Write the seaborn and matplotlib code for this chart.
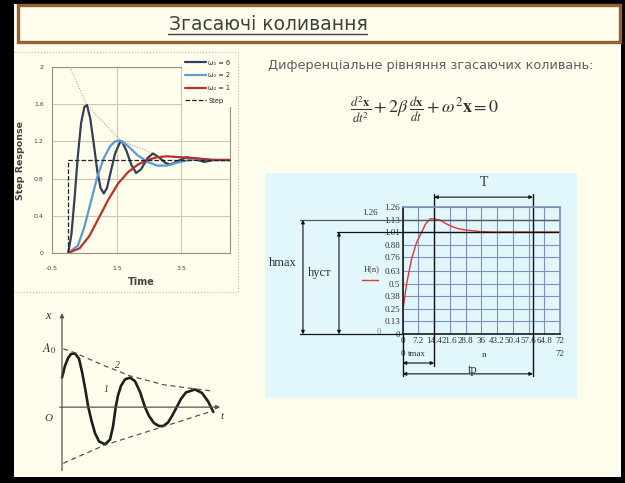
import matplotlib
matplotlib.use("Agg")
import matplotlib.pyplot as plt
from matplotlib.patches import Rectangle
import seaborn as sns

# --- step response chart (top left) ---
t_w6 = [0.0, 0.1, 0.2, 0.3, 0.4, 0.5, 0.58, 0.68, 0.8, 0.9, 1.0, 1.1, 1.2, 1.3, 1.45, 1.6,
        1.66, 1.8, 1.95, 2.1, 2.25, 2.45, 2.62, 2.8, 3.0, 3.15, 3.4, 3.65, 3.9, 4.2, 4.5, 5.0]
h_w6 = [0.0, 0.2, 0.6, 1.05, 1.4, 1.57, 1.59, 1.45, 1.15, 0.88, 0.7, 0.64, 0.7, 0.85, 1.07,
        1.19, 1.2, 1.1, 0.95, 0.86, 0.9, 1.02, 1.07, 1.03, 0.97, 0.95, 0.99, 1.03, 1.01,
        0.98, 1.0, 1.0]
t_w2 = [0.0, 0.3, 0.5, 0.7, 0.9, 1.1, 1.3, 1.45, 1.6, 1.85, 2.15, 2.45, 2.75, 3.05, 3.35,
        3.75, 4.15, 4.65, 5.0]
h_w2 = [0.0, 0.08, 0.28, 0.55, 0.82, 1.02, 1.15, 1.2, 1.21, 1.15, 1.05, 0.98, 0.94, 0.94,
        0.97, 1.0, 1.01, 1.0, 1.0]
t_w1 = [0.0, 0.35, 0.65, 0.95, 1.25, 1.55, 1.85, 2.15, 2.45, 2.75, 3.05, 3.45, 3.95, 4.45, 5.0]
h_w1 = [0.0, 0.05, 0.18, 0.38, 0.58, 0.75, 0.87, 0.95, 1.0, 1.03, 1.04, 1.03, 1.02, 1.0, 1.0]
t_step = [0.0, 0.0, 5.0]
h_step = [0.0, 1.0, 1.0]
t_env = [0.05, 0.58, 1.62, 2.62]
h_env = [2.0, 1.59, 1.21, 1.07]
legend_labels = ["ω₀ = 6", "ω₀ = 2", "ω₀ = 1", "Step"]

# --- damped oscillation sketch (bottom left) ---
t_osc = [0.0, 0.3, 0.6, 0.9, 1.3, 1.7, 2.0, 2.3, 2.63, 2.95, 3.3, 3.7, 4.3, 4.8, 5.1, 5.37,
         5.6, 5.9, 6.3, 6.8, 7.3, 7.8, 8.3, 8.7, 9.2, 9.7, 10.13, 10.6, 11.0, 11.47,
         11.9, 12.4, 13.3, 14.0, 14.6, 15.13]
x_osc = [0.5, 0.7, 0.83, 0.9, 0.91, 0.82, 0.6, 0.33, 0.0, -0.23, -0.44, -0.58, -0.63, -0.55,
         -0.33, 0.0, 0.2, 0.36, 0.47, 0.5, 0.44, 0.26, 0.0, -0.15, -0.27, -0.32, -0.32,
         -0.26, -0.15, 0.0, 0.14, 0.25, 0.3, 0.24, 0.1, -0.08]
t_up = [0.13, 1.3, 4.13, 6.8, 10.13, 13.3, 15.13]
x_up = [0.99, 0.92, 0.71, 0.53, 0.38, 0.31, 0.27]
t_low = [0.13, 4.3, 10.13, 15.13]
x_low = [-0.95, -0.64, -0.33, -0.06]

# --- transient response H(n) (right) ---
n_vals = [0, 1.8, 4.1, 6.4, 8.7, 10.5, 12.5, 14.4, 17, 20, 23, 26, 29, 35, 41, 50, 60, 72]
h_vals = [0.224, 0.5, 0.75, 0.91, 1.01, 1.09, 1.14, 1.14, 1.13, 1.09, 1.06, 1.04, 1.03,
          1.015, 1.01, 1.01, 1.01, 1.01]
y_ticks = [0, 0.13, 0.25, 0.38, 0.5, 0.63, 0.76, 0.88, 1.01, 1.13, 1.26]
x_ticks = [0, 7.2, 14.4, 21.6, 28.8, 36, 43.2, 50.4, 57.6, 64.8, 72]
h_max, h_ust = 1.13, 1.01
t_max, t_p = 14.4, 59.6

sns.set_theme(style="white")
plt.rcParams['font.family'] = ['DejaVu Sans']
plt.rcParams['mathtext.fontset'] = 'stix'

CREAM = '#FFFDEB'
CYAN = '#E2F7FC'
W, H = 625, 483


def box(x0, y0, x1, y1):
    return [x0 / W, 1 - y1 / H, (x1 - x0) / W, (y1 - y0) / H]


fig = plt.figure(figsize=(6.25, 4.83), dpi=100, facecolor='black')

# slide background, title, frames
bg = fig.add_axes([0, 0, 1, 1])
bg.set_xlim(0, W)
bg.set_ylim(H, 0)
bg.axis('off')
bg.add_patch(Rectangle((14, 4), 607, 473, fc=CREAM, ec='none'))
bg.add_patch(Rectangle((18, 5), 602, 37, fc=CREAM, ec='#946232', lw=2.4))
bg.text(268, 24, "Згасаючі коливання", ha='center', va='center', fontsize=13.5,
        color='#404040')
bg.plot([168, 367], [33.5, 33.5], color='#404040', lw=1)
bg.plot([14, 238, 238, 14], [52, 52, 292, 292], ls=':', color='#cdb89a', lw=0.8)
bg.text(268, 65, "Диференціальне рівняння згасаючих коливань:", ha='left', va='center',
        fontsize=9.3, color='#606060')
bg.text(425, 110, r'$\frac{d^2\mathbf{x}}{dt^2}+2\beta\,\frac{d\mathbf{x}}{dt}+\omega^2\mathbf{x}=0$',
        ha='center', va='center', fontsize=13, color='#333333')
bg.add_patch(Rectangle((265, 173), 312, 225, fc=CYAN, ec='none'))

# step response chart
ax1 = fig.add_axes(box(52, 67, 230, 253))
ax1.set_facecolor(CREAM)
sns.lineplot(x=t_env, y=h_env, ax=ax1, color='#c08070', lw=0.7, ls=':', estimator=None, sort=False)
sns.lineplot(x=t_w6, y=h_w6, ax=ax1, color='#34405a', lw=1.6, estimator=None, label=legend_labels[0])
sns.lineplot(x=t_w2, y=h_w2, ax=ax1, color='#5b9bd5', lw=1.6, estimator=None, label=legend_labels[1])
sns.lineplot(x=t_w1, y=h_w1, ax=ax1, color='#b8322a', lw=1.6, estimator=None, label=legend_labels[2])
sns.lineplot(x=t_step, y=h_step, ax=ax1, color='#222222', lw=0.9, ls='--', estimator=None,
             sort=False, label=legend_labels[3])
ax1.set_xlim(-0.5, 5.0)
ax1.set_ylim(0, 2)
ax1.set_xticks([-0.5, 1.5, 3.5])
ax1.set_yticks([0, 0.4, 0.8, 1.2, 1.6, 2])
ax1.set_xticklabels(['-0.5', '1.5', '3.5'])
ax1.set_yticklabels(['0', '0.4', '0.8', '1.2', '1.6', '2'])
ax1.tick_params(labelsize=4.5, colors='#444444', length=0)
ax1.tick_params(axis='x', pad=9)
ax1.tick_params(axis='y', pad=6)
ax1.grid(True, color='#cfc6b4', lw=0.8)
for s in ax1.spines.values():
    s.set_color('#999080')
    s.set_linewidth(0.8)
ax1.set_xlabel("Time", fontsize=7, fontweight='bold', color='#444444', labelpad=5)
ax1.set_ylabel("Step Response", fontsize=6.8, fontweight='bold', color='#444444', labelpad=6)
leg = ax1.legend(loc='upper right', bbox_to_anchor=(1.04, 1.075), fontsize=4.8, frameon=True,
                 facecolor=CREAM, edgecolor='none', framealpha=1, handlelength=3.2,
                 handletextpad=0.3, labelspacing=1.0, borderpad=0.5)

# damped oscillation sketch
ax2 = fig.add_axes(box(40, 305, 230, 478))
ax2.set_xlim(-2.2, 16.8)
ax2.set_ylim(-1.2, 1.73)
ax2.axis('off')
sns.lineplot(x=t_osc, y=x_osc, ax=ax2, color='#1e1e1e', lw=1.9, estimator=None)
sns.lineplot(x=t_up, y=x_up, ax=ax2, color='#555555', lw=0.9, ls=(0, (4, 3)), estimator=None)
sns.lineplot(x=t_low, y=x_low, ax=ax2, color='#555555', lw=0.9, ls=(0, (4, 3)), estimator=None)
ax2.annotate('', xy=(0, 1.64), xytext=(0, -1.12),
             arrowprops=dict(arrowstyle='-|>', color='#555555', lw=0.9, mutation_scale=6))
ax2.annotate('', xy=(16.1, 0), xytext=(-0.5, 0),
             arrowprops=dict(arrowstyle='-|>', color='#555555', lw=0.9, mutation_scale=6))
serif = dict(family='Liberation Serif', color='#333333')
ax2.text(-1.4, 1.55, 'x', fontsize=9, style='italic', ha='center', va='center', **serif)
ax2.text(-1.3, 1.0, r'$A_0$', fontsize=9, ha='center', va='center', color='#333333')
ax2.text(-1.4, -0.2, 'O', fontsize=8, style='italic', ha='center', va='center', **serif)
ax2.text(16.0, -0.15, 't', fontsize=8, style='italic', ha='center', va='center', **serif)
ax2.text(5.5, 0.7, '2', fontsize=7, style='italic', ha='center', va='center', **serif)
ax2.text(4.4, 0.3, '1', fontsize=7, style='italic', ha='center', va='center', **serif)

# transient response chart
ax3 = fig.add_axes(box(402.7, 206.7, 560, 334.3))
ax3.set_facecolor(CYAN)
sns.lineplot(x=n_vals, y=h_vals, ax=ax3, color='#e8343a', lw=1.0, estimator=None)
ax3.set_xlim(0, 72)
ax3.set_ylim(0, 1.26)
ax3.set_xticks(x_ticks)
ax3.set_yticks(y_ticks)
ax3.set_xticklabels([f'{v:g}' for v in x_ticks])
ax3.set_yticklabels([f'{v:g}' for v in y_ticks])
ax3.tick_params(labelsize=6.5, colors='#333333', length=0, pad=2)
for lab in ax3.get_xticklabels() + ax3.get_yticklabels():
    lab.set_family('Liberation Serif')
ax3.grid(True, color='#7f8fc4', lw=0.8)
for s in ax3.spines.values():
    s.set_color('#7f8fc4')
ax3.spines['left'].set_color('#222222')
ax3.spines['bottom'].set_color('#222222')
ax3.axhline(h_ust, color='#111111', lw=1.0)
ax3.axhline(h_max, color='#555555', lw=1.0)
yax = ax3.get_yaxis_transform()
xax = ax3.get_xaxis_transform()
ax3.plot([-0.65, 0], [h_max, h_max], color='#555555', lw=0.9, transform=yax, clip_on=False)
ax3.plot([-0.42, 0], [h_ust, h_ust], color='#111111', lw=0.9, transform=yax, clip_on=False)
ax3.plot([-0.65, 0], [0, 0], color='#111111', lw=0.9, transform=yax, clip_on=False)
ax3.plot([t_max, t_max], [-0.25, 1.1], color='#111111', lw=1.0, transform=xax, clip_on=False)
ax3.plot([t_p, t_p], [-0.33, 1.1], color='#111111', lw=1.0, transform=xax, clip_on=False)
ax3.plot([0, 0], [-0.33, 0], color='#111111', lw=1.0, transform=xax, clip_on=False)
arr = dict(arrowstyle='<|-|>', color='#111111', lw=0.8, mutation_scale=5, shrinkA=0, shrinkB=0)
ax3.annotate('', xy=(-0.634, h_max), xytext=(-0.634, 0), xycoords=yax, textcoords=yax,
             arrowprops=arr, annotation_clip=False)
ax3.annotate('', xy=(-0.405, h_ust), xytext=(-0.405, 0), xycoords=yax, textcoords=yax,
             arrowprops=arr, annotation_clip=False)
ax3.annotate('', xy=(t_p, 1.075), xytext=(t_max, 1.075), xycoords=xax, textcoords=xax,
             arrowprops=arr, annotation_clip=False)
ax3.annotate('', xy=(t_max, -0.225), xytext=(0, -0.225), xycoords=xax, textcoords=xax,
             arrowprops=arr, annotation_clip=False)
ax3.annotate('', xy=(t_p, -0.31), xytext=(0, -0.31), xycoords=xax, textcoords=xax,
             arrowprops=arr, annotation_clip=False)
ax3.text(37, 1.19, 'T', transform=xax, fontsize=10, ha='center', va='center', **serif)
ax3.text(32, -0.28, 'tp', transform=xax, fontsize=9, ha='center', va='center', **serif)
ax3.text(2.6, -0.155, 'tmax', transform=xax, fontsize=6.5, ha='left', va='center', **serif)
ax3.text(0, -0.155, '0', transform=xax, fontsize=6.5, ha='center', va='center', **serif)
ax3.text(37, -0.165, 'n', transform=xax, fontsize=6.5, ha='center', va='center', **serif)
ax3.text(72, -0.155, '72', transform=xax, fontsize=6.5, ha='center', va='center', **serif)
ax3.text(-0.76, 0.70, 'hmax', transform=yax, fontsize=9, ha='center', va='center', **serif)
ax3.text(-0.526, 0.605, 'hуст', transform=yax, fontsize=9, ha='center', va='center', **serif)
ax3.text(-0.195, 0.645, 'H(n)', transform=yax, fontsize=6, ha='center', va='center', **serif)
ax3.plot([-0.259, -0.157], [0.536, 0.536], color='#e8343a', lw=1, transform=yax, clip_on=False)
ax3.text(-0.16, 1.2, '1.26', transform=yax, fontsize=6.5, ha='right', va='center', **serif)
ax3.text(-0.14, 0.02, '0', transform=yax, fontsize=6.5, ha='right', va='center',
         family='Liberation Serif', color='#888888')

fig.savefig('out.png', dpi=100, facecolor='black')
